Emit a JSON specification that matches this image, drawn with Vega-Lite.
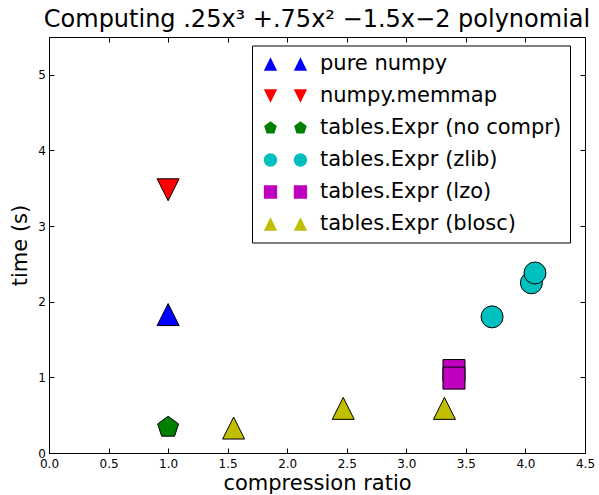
{
  "$schema": "https://vega.github.io/schema/vega-lite/v6.json",
  "width": 536,
  "height": 416,
  "autosize": {"type": "none"},
  "padding": {"left": 49, "top": 37, "right": 14, "bottom": 42},
  "background": "white",
  "config": {
    "view": {"stroke": "black", "strokeWidth": 1},
    "font": "DejaVu Sans",
    "axis": {
      "grid": false,
      "domainColor": "black",
      "domainWidth": 1,
      "tickColor": "black",
      "tickWidth": 1,
      "tickSize": -5,
      "labelFont": "DejaVu Sans",
      "labelFontSize": 12,
      "labelColor": "black",
      "titleFont": "DejaVu Sans",
      "titleFontSize": 21,
      "titleFontWeight": "normal",
      "titleColor": "black"
    }
  },
  "title": {
    "text": "Computing .25x³ +.75x² −1.5x−2 polynomial",
    "font": "DejaVu Sans",
    "fontSize": 24,
    "fontWeight": "normal",
    "color": "black",
    "anchor": "middle",
    "offset": 5
  },
  "data": {
    "values": [
      {"method": "pure numpy", "ratio": 1.0, "time": 1.83},
      {"method": "numpy.memmap", "ratio": 1.0, "time": 3.48},
      {"method": "tables.Expr (no compr)", "ratio": 1.0, "time": 0.34},
      {"method": "tables.Expr (zlib)", "ratio": 3.72, "time": 1.8},
      {"method": "tables.Expr (zlib)", "ratio": 4.05, "time": 2.25},
      {"method": "tables.Expr (zlib)", "ratio": 4.08, "time": 2.38},
      {"method": "tables.Expr (lzo)", "ratio": 3.4, "time": 1.09},
      {"method": "tables.Expr (lzo)", "ratio": 3.4, "time": 0.99},
      {"method": "tables.Expr (blosc)", "ratio": 1.55, "time": 0.33},
      {"method": "tables.Expr (blosc)", "ratio": 2.47, "time": 0.59},
      {"method": "tables.Expr (blosc)", "ratio": 3.32, "time": 0.59}
    ]
  },
  "layer": [
    {
      "mark": {"type": "point", "filled": true, "size": 484, "stroke": "black", "strokeWidth": 1, "opacity": 1},
      "encoding": {
        "x": {
          "field": "ratio", "type": "quantitative",
          "scale": {"domain": [0, 4.5], "nice": false, "zero": false},
          "axis": {"values": [0, 0.5, 1, 1.5, 2, 2.5, 3, 3.5, 4, 4.5], "format": ".1f", "labelPadding": 10, "title": "compression ratio", "titlePadding": 3, "labelFlush": false}
        },
        "y": {
          "field": "time", "type": "quantitative",
          "scale": {"domain": [0, 5.5], "nice": false, "zero": false},
          "axis": {"values": [0, 1, 2, 3, 4, 5], "format": "d", "labelPadding": 8.5, "title": "time (s)", "titlePadding": 7, "labelFlush": false}
        },
        "fill": {
          "field": "method", "type": "nominal",
          "scale": {
            "domain": ["pure numpy", "numpy.memmap", "tables.Expr (no compr)", "tables.Expr (zlib)", "tables.Expr (lzo)", "tables.Expr (blosc)"],
            "range": ["#0000ff", "#ff0000", "#008000", "#00bfbf", "#bf00bf", "#bfbf00"]
          },
          "legend": null
        },
        "shape": {
          "field": "method", "type": "nominal",
          "scale": {
            "domain": ["pure numpy", "numpy.memmap", "tables.Expr (no compr)", "tables.Expr (zlib)", "tables.Expr (lzo)", "tables.Expr (blosc)"],
            "range": ["M0,-1L1,1L-1,1Z", "M0,1L1,-1L-1,-1Z", "M0,-1L0.951,-0.309L0.588,0.809L-0.588,0.809L-0.951,-0.309Z", "circle", "square", "M0,-1L1,1L-1,1Z"]
          },
          "legend": null
        }
      }
    },
    {
      "mark": {"type": "point", "filled": true, "opacity": 0, "size": 10, "stroke": "black", "strokeWidth": 0.7},
      "encoding": {
        "x": {
          "field": "ratio", "type": "quantitative",
          "scale": {"domain": [0, 4.5], "nice": false, "zero": false},
          "axis": {"orient": "top", "values": [0, 0.5, 1, 1.5, 2, 2.5, 3, 3.5, 4, 4.5], "labels": false, "domain": false, "title": null}
        },
        "y": {
          "field": "time", "type": "quantitative",
          "scale": {"domain": [0, 5.5], "nice": false, "zero": false},
          "axis": {"orient": "right", "values": [0, 1, 2, 3, 4, 5], "labels": false, "domain": false, "title": null}
        },
        "color": {
          "field": "method", "type": "nominal",
          "scale": {
            "domain": ["pure numpy", "numpy.memmap", "tables.Expr (no compr)", "tables.Expr (zlib)", "tables.Expr (lzo)", "tables.Expr (blosc)"],
            "range": ["#0000ff", "#ff0000", "#008000", "#00bfbf", "#bf00bf", "#bfbf00"]
          },
          "legend": {
            "title": null,
            "orient": "none",
            "legendX": 203,
            "legendY": 8.5,
            "direction": "vertical",
            "padding": 8,
            "strokeColor": "black",
            "fillColor": "white",
            "cornerRadius": 0,
            "labelFont": "DejaVu Sans",
            "labelFontSize": 21,
            "labelColor": "black",
            "labelLimit": 400,
            "symbolSize": 177,
            "symbolOpacity": 1,
            "symbolStrokeColor": "black",
            "symbolStrokeWidth": 0.7,
            "labelOffset": 39,
            "rowPadding": 10
          }
        },
        "shape": {
          "field": "method", "type": "nominal",
          "scale": {
            "domain": ["pure numpy", "numpy.memmap", "tables.Expr (no compr)", "tables.Expr (zlib)", "tables.Expr (lzo)", "tables.Expr (blosc)"],
            "range": [
              "M0,-1L1,1L-1,1Z M4.5,-1L5.5,1L3.5,1Z",
              "M0,1L1,-1L-1,-1Z M4.5,1L5.5,-1L3.5,-1Z",
              "M0,-1L0.951,-0.309L0.588,0.809L-0.588,0.809L-0.951,-0.309Z M4.5,-1L5.451,-0.309L5.088,0.809L3.912,0.809L3.549,-0.309Z",
              "M-1,0A1,1 0 1,0 1,0A1,1 0 1,0 -1,0Z M3.5,0A1,1 0 1,0 5.5,0A1,1 0 1,0 3.5,0Z",
              "M-1,-1L1,-1L1,1L-1,1Z M3.5,-1L5.5,-1L5.5,1L3.5,1Z",
              "M0,-1L1,1L-1,1Z M4.5,-1L5.5,1L3.5,1Z"
            ]
          },
          "legend": {
            "title": null,
            "orient": "none",
            "legendX": 203,
            "legendY": 8.5,
            "direction": "vertical",
            "padding": 8,
            "strokeColor": "black",
            "fillColor": "white",
            "cornerRadius": 0,
            "labelFont": "DejaVu Sans",
            "labelFontSize": 21,
            "labelColor": "black",
            "labelLimit": 400,
            "symbolSize": 177,
            "symbolOpacity": 1,
            "symbolStrokeColor": "black",
            "symbolStrokeWidth": 0.7,
            "labelOffset": 39,
            "rowPadding": 10
          }
        }
      }
    }
  ],
  "resolve": {
    "axis": {"x": "independent", "y": "independent"},
    "scale": {"shape": "independent", "color": "independent"},
    "legend": {"shape": "independent", "color": "independent"}
  }
}
